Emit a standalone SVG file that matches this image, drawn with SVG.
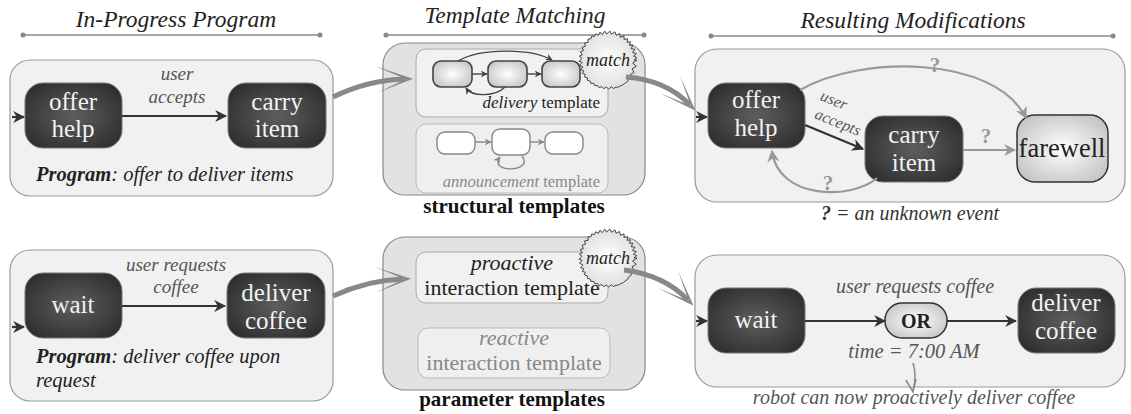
<svg xmlns="http://www.w3.org/2000/svg" width="1131" height="414" viewBox="0 0 1131 414" font-family="'Liberation Serif', 'DejaVu Serif', serif">
<style>
text{font-family:'Liberation Serif', 'DejaVu Serif', serif;}
.hdr{font-size:23.5px;font-style:italic;fill:#222;text-anchor:middle;}
.hline{stroke:#888;stroke-width:1.5;}
.hdot{fill:#888;}
.panel{fill:#f0f1f0;stroke:#999;stroke-width:1.2;}
.mpanel{fill:#e2e2e2;stroke:#888;stroke-width:1.2;}
.tbox{fill:#f1f1f1;stroke:#aaa;stroke-width:1;}
.tbox2{fill:#efefef;stroke:#bbb;stroke-width:1;}
.dark{fill:url(#gDark);stroke:#777;stroke-width:1;}
.light{fill:url(#gLight);stroke:#333;stroke-width:1.5;}
.ntext{font-size:25px;fill:#f2f2f2;text-anchor:middle;}
.ltext{font-size:26.5px;fill:#222;text-anchor:middle;}
.elabel{font-size:19px;font-style:italic;fill:#555;text-anchor:middle;}
.prog{font-size:20.5px;font-style:italic;fill:#222;}
.bold{font-weight:bold;}
.cap{font-size:21px;font-weight:bold;fill:#111;text-anchor:middle;}
.q{font-size:21px;font-weight:bold;fill:#999;text-anchor:middle;}
.e-dark{fill:none;stroke:#333;stroke-width:2.2;marker-end:url(#aDark);}
.e-gray{fill:none;stroke:#999;stroke-width:2.2;marker-end:url(#aGray);}
.big{fill:none;stroke:#888;stroke-width:5;marker-end:url(#aBig);}
.tn{fill:url(#gLight);stroke:#444;stroke-width:1.6;}
.tn2{fill:#fff;stroke:#888;stroke-width:1.4;}
.te{fill:none;stroke:#444;stroke-width:1.4;marker-end:url(#aT);}
.te2{fill:none;stroke:#888;stroke-width:1.4;marker-end:url(#aT2);}
.burst{fill:url(#gBurst);stroke:#444;stroke-width:1;}
.match{font-size:18px;font-style:italic;fill:#222;text-anchor:middle;}
.ttext{font-size:22px;fill:#222;text-anchor:middle;}
.gtext{font-size:22px;fill:#888;text-anchor:middle;}
.rlabel{font-size:20px;font-style:italic;fill:#555;text-anchor:middle;}
</style>
<defs>
<radialGradient id="gDark" cx="50%" cy="50%" r="60%">
<stop offset="0" stop-color="#5e5e5e"/><stop offset="1" stop-color="#2f2f2f"/>
</radialGradient>
<radialGradient id="gLight" cx="50%" cy="50%" r="60%">
<stop offset="0" stop-color="#ffffff"/><stop offset="1" stop-color="#c4c4c4"/>
</radialGradient>
<radialGradient id="gBurst" cx="50%" cy="50%" r="55%">
<stop offset="0" stop-color="#ffffff"/><stop offset="1" stop-color="#dedede"/>
</radialGradient>
<marker id="aDark" viewBox="0 0 10 10" refX="9" refY="5" markerWidth="5.5" markerHeight="5.5" orient="auto">
<path d="M0,0 L10,5 L0,10 L3,5 Z" fill="#333"/>
</marker>
<marker id="aGray" viewBox="0 0 10 10" refX="9" refY="5" markerWidth="5.5" markerHeight="5.5" orient="auto">
<path d="M0,0 L10,5 L0,10 L3,5 Z" fill="#999"/>
</marker>
<marker id="aT" viewBox="0 0 10 10" refX="9" refY="5" markerWidth="5" markerHeight="5" orient="auto">
<path d="M0,0 L10,5 L0,10 L3,5 Z" fill="#444"/>
</marker>
<marker id="aT2" viewBox="0 0 10 10" refX="9" refY="5" markerWidth="5" markerHeight="5" orient="auto">
<path d="M0,0 L10,5 L0,10 L3,5 Z" fill="#888"/>
</marker>
<marker id="aBig" viewBox="0 0 36 26" refX="28" refY="13" markerWidth="36" markerHeight="26" markerUnits="userSpaceOnUse" orient="auto">
<path d="M0,0 L36,13 L0,26 L29,13 Z" fill="#888"/>
</marker>
<polygon id="star" points="29,0 24.64,2.98 28.31,6.27 24.02,8.77 26.08,12.5 22.7,14.2 23.42,17.1 20.41,19.13 19.73,21.25 17.15,23.14 15.28,24.65 12.96,25.64 10.29,27.11 8.22,27.22 5.45,28.48 3.36,26.79 0.7,28.99 -1.5,27.14 -4.46,28.65 -6.28,26.63 -9.2,27.5 -10.54,25.52 -13.26,25.79 -14.1,23.46 -17.31,23.27 -17.58,21.24 -20.82,20.19 -20.48,17.94 -23.59,16.87 -22.75,14.29 -25.7,13.43 -24.13,10.8 -27.33,9.7 -25.01,7.02 -28.53,5.2 -25.78,2.27 -28.97,1.38 -25.99,-1.76 -28.75,-3.85 -25.6,-5.26 -27.76,-8.37 -24.36,-9.56 -26.05,-12.56 -22.46,-13.92 -23.46,-17.05 -19.96,-17.58 -19.97,-21.03 -16.98,-21.32 -16.26,-24.01 -13.46,-23.51 -12.26,-26.28 -9.62,-24.64 -7.93,-27.9 -5.74,-25.33 -3.17,-28.83 -1.3,-25.97 1.87,-28.94 3.5,-25.76 6.88,-28.17 8.2,-24.66 11.58,-26.59 12.43,-22.63 16.05,-24.15 16.07,-20.51 19.55,-21.42 19.18,-17.64 22.49,-18.31 21.5,-14.75 24.91,-14.85 23.1,-11.24 26.9,-10.84 24.57,-7.54 28.3,-6.33 25.46,-3.88 28.8,-2.42 25.94,0"/>
</defs>

<g id="headers">
<text class="hdr" x="176" y="27">In-Progress Program</text>
<line class="hline" x1="23" y1="35" x2="320" y2="35"/><circle class="hdot" cx="23" cy="35" r="2.5"/><circle class="hdot" cx="320" cy="35" r="2.5"/>
<text class="hdr" x="515" y="23">Template Matching</text>
<line class="hline" x1="386" y1="35" x2="644" y2="35"/><circle class="hdot" cx="386" cy="35" r="2.5"/><circle class="hdot" cx="644" cy="35" r="2.5"/>
<text class="hdr" x="913" y="28">Resulting Modifications</text>
<line class="hline" x1="711" y1="36" x2="1113" y2="36"/><circle class="hdot" cx="711" cy="36" r="2.5"/><circle class="hdot" cx="1113" cy="36" r="2.5"/>
</g>

<g id="panel-program-1">
<rect class="panel" x="10" y="60" width="323" height="136" rx="20"/>
<text class="prog" x="36" y="181"><tspan class="bold">Program</tspan>: offer to deliver items</text>
</g>
<g id="panel-structural">
<rect class="mpanel" x="383" y="43" width="262" height="152" rx="22"/>
<rect class="tbox" x="416" y="49" width="192" height="68" rx="10"/>
<rect class="tbox2" x="416" y="124" width="192" height="69" rx="10"/>
<text class="cap" x="514" y="213">structural templates</text>
</g>
<g id="panel-result-1">
<rect class="panel" x="695" y="49" width="430" height="153" rx="22"/>
<text x="910" y="220" style="font-size:20px;font-style:italic;fill:#333;text-anchor:middle"><tspan font-weight="bold">?</tspan> = an unknown event</text>
</g>
<g id="panel-program-2">
<rect class="panel" x="10" y="250" width="323" height="151" rx="20"/>
<text class="prog" x="36" y="363"><tspan class="bold">Program</tspan>: deliver coffee upon</text>
<text class="prog" x="36" y="387">request</text>
</g>
<g id="panel-parameter">
<rect class="mpanel" x="383" y="237" width="262" height="153" rx="22"/>
<text class="cap" x="512" y="406">parameter templates</text>
</g>
<g id="panel-result-2">
<rect class="panel" x="695" y="255" width="430" height="132" rx="22"/>
</g>

<g id="n-offer-help-1"><rect class="dark" x="25" y="83" width="97" height="65" rx="18"/>
<text class="ntext" x="73" y="110">offer</text><text class="ntext" x="73" y="137">help</text></g>
<g id="n-carry-item-1"><rect class="dark" x="228" y="83" width="98" height="65" rx="18"/>
<text class="ntext" x="277" y="110">carry</text><text class="ntext" x="277" y="137">item</text></g>

<g id="n-wait-1"><rect class="dark" x="25" y="273" width="97" height="65" rx="18"/>
<text class="ntext" x="73" y="313">wait</text></g>
<g id="n-deliver-coffee-1"><rect class="dark" x="227" y="273" width="98" height="65" rx="18"/>
<text class="ntext" x="276" y="301">deliver</text><text class="ntext" x="276" y="329">coffee</text></g>

<g id="t-delivery">
<rect class="tn" x="433" y="61" width="39" height="26" rx="8"/>
<rect class="tn" x="488" y="61" width="39" height="26" rx="8"/>
<rect class="tn" x="542" y="61" width="38" height="26" rx="8"/>
<path class="te" d="M472,74 L487,74"/>
<path class="te" d="M527,74 L541,74"/>
<path class="te" d="M458,61 C480,48 530,48 552,60"/>
<path class="te" d="M505,87 C495,97 472,97 466,88"/>
<text x="600" y="108" style="font-size:17px;fill:#222;text-anchor:end"><tspan font-style="italic">delivery</tspan> template</text>
</g>
<g id="t-announcement">
<rect class="tn2" x="437" y="132" width="38" height="22" rx="8"/>
<rect class="tn2" x="492" y="129" width="38" height="26" rx="8"/>
<rect class="tn2" x="545" y="132" width="38" height="22" rx="8"/>
<path class="te2" d="M475,142 L491,142"/>
<path class="te2" d="M530,142 L544,142"/>
<path class="te2" d="M522,156 C535,172 488,174 500,157"/>
<text x="600" y="187" style="font-size:16.5px;fill:#888;text-anchor:end"><tspan font-style="italic">announcement</tspan> template</text>
</g>
<g id="match-1"><use href="#star" class="burst" transform="translate(608,60)"/><text class="match" x="608" y="66">match</text></g>

<g id="t-proactive">
<rect class="tbox" x="416" y="252" width="192" height="51" rx="10"/>
<text class="ttext" x="512" y="270" font-style="italic">proactive</text>
<text class="ttext" x="512" y="295">interaction template</text>
</g>
<g id="t-reactive">
<rect class="tbox2" x="418" y="328" width="192" height="50" rx="10"/>
<text class="gtext" x="514" y="345" font-style="italic">reactive</text>
<text class="gtext" x="514" y="370">interaction template</text>
</g>
<g id="match-2"><use href="#star" class="burst" transform="translate(608,258)"/><text class="match" x="608" y="264">match</text></g>

<g id="n-offer-help-2"><rect class="dark" x="708" y="83" width="97" height="65" rx="18"/>
<text class="ntext" x="756" y="108">offer</text><text class="ntext" x="756" y="136">help</text></g>
<g id="n-carry-item-2"><rect class="dark" x="865" y="116" width="98" height="66" rx="18"/>
<text class="ntext" x="914" y="143">carry</text><text class="ntext" x="914" y="171">item</text></g>
<g id="n-farewell"><rect class="light" x="1017" y="115" width="91" height="67" rx="18"/>
<text class="ltext" x="1062" y="157">farewell</text></g>

<g id="n-wait-2"><rect class="dark" x="708" y="288" width="97" height="65" rx="18"/>
<text class="ntext" x="756" y="328">wait</text></g>
<g id="n-or"><rect class="light" x="885" y="303" width="62" height="35" rx="17"/>
<text x="916" y="328" style="font-size:20px;font-weight:bold;fill:#222;text-anchor:middle">OR</text></g>
<g id="n-deliver-coffee-2"><rect class="dark" x="1018" y="288" width="97" height="65" rx="18"/>
<text class="ntext" x="1066" y="311">deliver</text><text class="ntext" x="1066" y="339">coffee</text></g>

<g id="connectors">
<path class="e-dark" d="M12,117 L24,117"/>
<path class="e-dark" d="M122,116 L226,116"/>
<text class="elabel" x="177" y="80">user</text>
<text class="elabel" x="177" y="103">accepts</text>

<path class="e-dark" d="M12,327 L24,327"/>
<path class="e-dark" d="M122,306 L225,306"/>
<text class="elabel" x="176" y="271">user requests</text>
<text class="elabel" x="176" y="293">coffee</text>

<path class="big" d="M333,97 Q368,80 405,79"/>
<path class="big" d="M333,296 Q368,280 403,279"/>
<path class="big" d="M626,77 Q666,80 690,105"/>
<path class="big" d="M624,270 Q664,275 688,300"/>

<path class="e-dark" d="M696,117 L707,117"/>
<path class="e-dark" d="M805,125 L863,149"/>
<text class="elabel" transform="translate(832,105) rotate(22)" style="font-size:16px">user</text>
<text class="elabel" transform="translate(836,127) rotate(22)" style="font-size:16px">accepts</text>
<path class="e-gray" d="M800,90 C860,55 995,55 1026,118"/>
<text class="q" x="935" y="72">?</text>
<path class="e-gray" d="M963,150 L1015,150"/>
<text class="q" x="986" y="143">?</text>
<path class="e-gray" d="M877,178 C852,200 778,200 772,151"/>
<text class="q" x="828" y="190">?</text>

<path class="e-dark" d="M696,321 L707,321"/>
<path class="e-dark" d="M805,321 L885,321"/>
<path class="e-dark" d="M947,321 L1016,321"/>
<text class="rlabel" x="915" y="293">user requests coffee</text>
<text class="rlabel" x="914" y="358" style="font-size:20.5px">time = 7:00 AM</text>
<path fill="none" stroke="#888" stroke-width="1.5" d="M913,363 Q917,375 913,391 M906,380 L913,392 L916,379"/>
<text class="rlabel" x="914" y="404">robot can now proactively deliver coffee</text>
</g>
</svg>
